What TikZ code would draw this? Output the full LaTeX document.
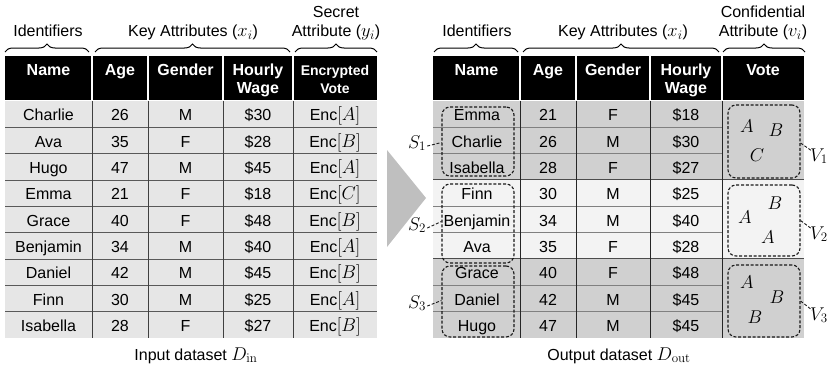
\RequirePackage{fix-cm}
\documentclass[tikz,border=0pt]{standalone}
\usepackage[no-math]{fontspec}
\setmainfont{Liberation Sans}
\DeclareMathSizes{16}{18.5}{13}{9.5}
\usetikzlibrary{decorations.pathreplacing,calc}
\definecolor{rowgray}{HTML}{E6E6E6}
\definecolor{grpdark}{HTML}{D0D0D0}
\definecolor{grplight}{HTML}{F3F3F3}
\definecolor{arrowgray}{HTML}{BFBFBF}
\begin{document}
\begin{tikzpicture}[x=1pt,y=-1pt,
  cell/.style={anchor=base,inner sep=0pt,font=\fontsize{16}{19}\selectfont},
  hdr/.style={anchor=base,inner sep=0pt,text=white,font=\fontsize{16}{19}\selectfont\bfseries},
  hdrsm/.style={anchor=base,inner sep=0pt,text=white,font=\fontsize{14}{17}\selectfont\bfseries},
  toplab/.style={anchor=base,inner sep=0pt,font=\fontsize{16}{19}\selectfont},
  brc/.style={decorate,decoration={brace,amplitude=8pt},line width=1pt},
  grp/.style={draw=black!90,dash pattern=on 3pt off 1.8pt,rounded corners=8pt,line width=1.1pt,minimum width=72pt,inner sep=0pt},
  lead/.style={draw=black!90,dash pattern=on 3pt off 1.8pt,line width=0.9pt},
  mlab/.style={anchor=base,inner sep=0pt,font=\fontsize{16}{19}\selectfont},
  letter/.style={inner sep=0pt,font=\fontsize{16}{19}\selectfont}]
\useasboundingbox (0,0) rectangle (829,372);
\def\rh{26.33}
% ---------------- left table ----------------
\fill[black] (5,56) rectangle (377,99.5);
\foreach \x in {92,148,223,293} \draw[white,line width=1.5pt] (\x,56) -- (\x,99.5);
\fill[rowgray] (5,101) rectangle (377,338);
\foreach \k in {1,...,8} \draw[black!65,line width=0.9pt] (5,{101+\k*\rh}) -- (377,{101+\k*\rh});
\foreach \x in {92,148,223,293} \draw[black!75,line width=0.9pt] (\x,101) -- (\x,338);
\node[hdr] (lh1) at (48.5,75.5) {Name};
\node[hdr] (lh2) at (120,75.5) {Age};
\node[hdr] (lh3) at (185.5,75.5) {Gender};
\node[hdr] (lh4) at (258,75.5) {Hourly};
\node[hdr] (lh5) at (258,93.5) {Wage};
\node[hdrsm] (lh6) at (335,75.5) {Encrypted};
\node[hdrsm] (lh7) at (335,93) {Vote};
\foreach \n/\a/\g/\w/\v [count=\i from 0] in {Charlie/26/M/30/A,Ava/35/F/28/B,Hugo/47/M/45/A,Emma/21/F/18/C,Grace/40/F/48/B,Benjamin/34/M/40/A,Daniel/42/M/45/B,Finn/30/M/25/A,Isabella/28/F/27/B}{
  \pgfmathsetmacro\yb{101+(\i+0.5)*\rh+6.7}
  \node[cell] (ln\i) at (48.5,\yb) {\n};
  \node[cell] (la\i) at (120,\yb) {\a};
  \node[cell] (lg\i) at (185.5,\yb) {\g};
  \node[cell] (lw\i) at (258,\yb) {\$\w};
  \node[cell] (lv\i) at (335,\yb) {Enc$[\v]$};
}
% braces and labels left
\draw[brc] (5,52) -- (89,52);
\draw[brc] (95,52) -- (290,52);
\draw[brc] (295,52) -- (377,52);
\node[toplab] (lt1) at (48,36.5) {Identifiers};
\node[toplab] (lt2) at (193,36.5) {Key Attributes ($x_i$)};
\node[toplab] (lt3) at (336,17) {Secret};
\node[toplab] (lt4) at (336,36.5) {Attribute ($y_i$)};
\node[toplab] (lcap) at (196,360) {Input dataset $D_{\mathrm{in}}$};
% ---------------- arrow ----------------
\fill[arrowgray] (387,150) -- (426,198) -- (387,247) -- cycle;
% ---------------- right table ----------------
\fill[black] (433,56) rectangle (804,99.5);
\foreach \x in {520,576,650,722} \draw[white,line width=1.5pt] (\x,56) -- (\x,99.5);
\fill[grpdark] (433,101) rectangle (804,{101+3*\rh});
\fill[grplight] (433,{101+3*\rh}) rectangle (804,{101+6*\rh});
\fill[grpdark] (433,{101+6*\rh}) rectangle (804,338);
\foreach \k in {1,2,4,5,7,8} \draw[black!50,line width=0.9pt] (433,{101+\k*\rh}) -- (722,{101+\k*\rh});
\foreach \k in {3,6} \draw[black!70,line width=1pt] (433,{101+\k*\rh}) -- (804,{101+\k*\rh});
\foreach \x in {520,576,650,722} \draw[black!85,line width=0.9pt] (\x,101) -- (\x,338);
\node[hdr] (rh1) at (476.5,75.5) {Name};
\node[hdr] (rh2) at (548,75.5) {Age};
\node[hdr] (rh3) at (613,75.5) {Gender};
\node[hdr] (rh4) at (686,75.5) {Hourly};
\node[hdr] (rh5) at (686,93.5) {Wage};
\node[hdr] (rh6) at (763,75.5) {Vote};
\foreach \n/\a/\g/\w [count=\i from 0] in {Emma/21/F/18,Charlie/26/M/30,Isabella/28/F/27,Finn/30/M/25,Benjamin/34/M/40,Ava/35/F/28,Grace/40/F/48,Daniel/42/M/45,Hugo/47/M/45}{
  \pgfmathsetmacro\yb{101+(\i+0.5)*\rh+6.7}
  \node[cell] (rn\i) at (477,\yb) {\n};
  \node[cell] (ra\i) at (548,\yb) {\a};
  \node[cell] (rg\i) at (613,\yb) {\g};
  \node[cell] (rw\i) at (686,\yb) {\$\w};
}
\draw[brc] (434,52) -- (518,52);
\draw[brc] (523,52) -- (719,52);
\draw[brc] (723,52) -- (805,52);
\node[toplab] (rt1) at (477,36.5) {Identifiers};
\node[toplab] (rt2) at (623,36.5) {Key Attributes ($x_i$)};
\node[toplab] (rt3) at (763,17) {Confidential};
\node[toplab] (rt4) at (763,36.5) {Attribute ($v_i$)};
\node[toplab] (rcap) at (619,360) {Output dataset $D_{\mathrm{out}}$};
% group boxes (names)
\node[grp,minimum height=69pt] (s1box) at (478,141.5) {};
\node[grp,minimum height=79pt] (s2box) at (478,223.5) {};
\node[grp,minimum height=71pt] (s3box) at (478,301.5) {};
\node[mlab] (s1lab) at (417,148) {$S_1$};
\node[mlab] (s2lab) at (417,230) {$S_2$};
\node[mlab] (s3lab) at (417,308) {$S_3$};
\draw[lead] ($(s1lab.east)+(1,3)$) -- ($(s1box.west)+(0,1)$);
\draw[lead] ($(s2lab.east)+(1,3)$) -- ($(s2box.west)+(0,-2)$);
\draw[lead] ($(s3lab.east)+(1,3)$) -- ($(s3box.west)+(0,-1)$);
% vote boxes
\node[grp,minimum height=73pt] (v1box) at (764,141.5) {};
\node[grp,minimum height=71pt] (v2box) at (764,220.5) {};
\node[grp,minimum height=72pt] (v3box) at (764,301) {};
\node[mlab,anchor=base west] (v1lab) at (810,161) {$V_1$};
\node[mlab,anchor=base west] (v2lab) at (810,239) {$V_2$};
\node[mlab,anchor=base west] (v3lab) at (810,320) {$V_3$};
\draw[lead] ($(v1box.east)+(0,1.5)$) -- ($(v1lab.west)+(2,-5)$);
\draw[lead] ($(v2box.east)+(0,0)$) -- ($(v2lab.west)+(2,-5)$);
\draw[lead] ($(v3box.east)+(0,0)$) -- ($(v3lab.west)+(2,-5)$);
\node[letter] (v1a) at (747,126) {$A$};
\node[letter] (v1b) at (776,130) {$B$};
\node[letter] (v1c) at (757,155) {$C$};
\node[letter] (v2b) at (775,203) {$B$};
\node[letter] (v2a) at (745,217) {$A$};
\node[letter] (v2c) at (768,237) {$A$};
\node[letter] (v3a) at (747,282) {$A$};
\node[letter] (v3b) at (777,297) {$B$};
\node[letter] (v3c) at (755,317) {$B$};
\end{tikzpicture}
\end{document}
